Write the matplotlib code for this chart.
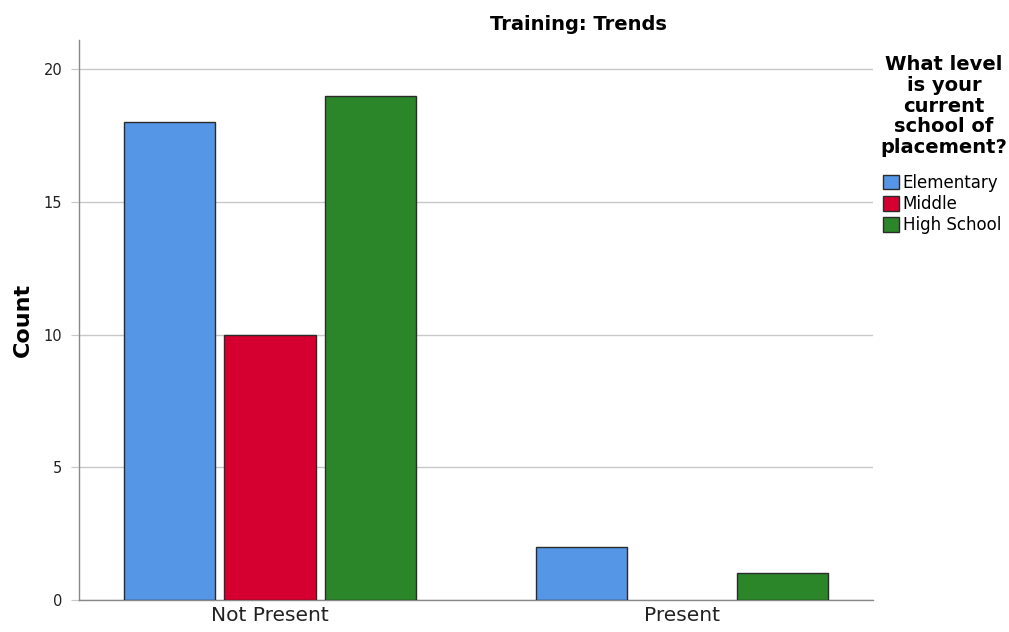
import numpy as np
import matplotlib.pyplot as plt
from matplotlib.patches import Patch

# data
categories = ["Not Present", "Present"]
levels = ["Elementary", "Middle", "High School"]
elementary = [18, 2]
middle = [10, 0]
high_school = [19, 1]

colors = ["#5596e6", "#d5002f", "#2a8629"]

fig = plt.figure(figsize=(10.09, 6.32), dpi=100)
ax = fig.add_axes([0.0783, 0.0506, 0.7869, 0.8861])

x = np.arange(len(categories))
width = 0.221
step = 0.245
for i, (vals, c) in enumerate(zip([elementary, middle, high_school], colors)):
    vals = np.array(vals, dtype=float)
    # zero counts get no outline, like the original
    edges = ["#2b2b2b" if v > 0 else "none" for v in vals]
    ax.bar(x + (i - 1) * step, vals, width, color=c, edgecolor=edges,
           linewidth=1.0, zorder=3)

ax.set_xlim(-0.4636, 1.4636)
ax.set_ylim(0, 21.1)
ax.set_yticks([0, 5, 10, 15, 20])
ax.yaxis.grid(True, color="#c8c8c8", linewidth=1.0, zorder=0)
ax.set_axisbelow(True)

for s in ["top", "right"]:
    ax.spines[s].set_visible(False)
for s in ["left", "bottom"]:
    ax.spines[s].set_color("#888888")
    ax.spines[s].set_linewidth(1.0)

ax.set_xticks(x)
ax.set_xticklabels(categories, fontsize=14.5)
ax.tick_params(axis="x", length=0, pad=4, colors="#222222")
ax.tick_params(axis="y", length=6, color="#c8c8c8", labelsize=10.5,
               labelcolor="#222222", pad=6)

ax.set_ylabel("Count", fontsize=16, fontweight="bold", labelpad=8)

fig.text(578 / 1009, 1 - 25 / 632, "Training: Trends", ha="center", va="center",
         fontsize=14, fontweight="bold")

# legend title and entries
fig.text(944 / 1009, 1 - 106 / 632,
         "What level\nis your\ncurrent\nschool of\nplacement?",
         ha="center", va="center", fontsize=14, fontweight="bold",
         linespacing=1.13)
handles = [Patch(facecolor=c, edgecolor="#2b2b2b", label=l)
           for c, l in zip(colors, levels)]
fig.legend(handles=handles, loc="upper left",
           bbox_to_anchor=(876 / 1009, 1 - 167 / 632), frameon=False,
           fontsize=12, handlelength=1.0, handleheight=1.0,
           handletextpad=0.2, labelspacing=0.2, borderaxespad=0)

fig.savefig("out.png", dpi=100)
